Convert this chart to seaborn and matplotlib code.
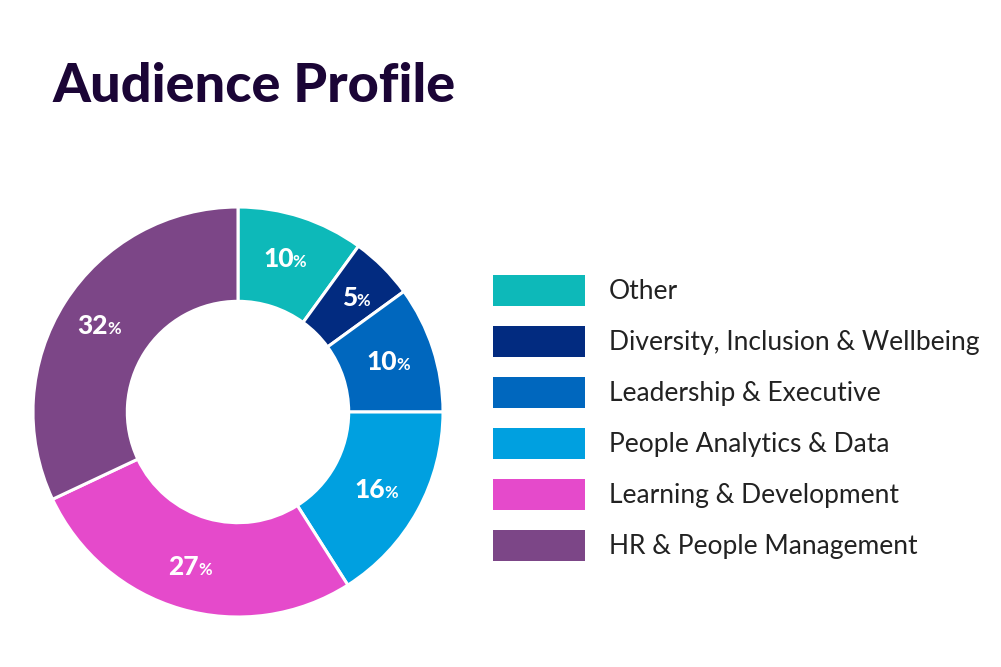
import matplotlib
matplotlib.use("Agg")
import matplotlib.pyplot as plt
import matplotlib.transforms as mtransforms
import numpy as np
import seaborn as sns

categories = ["Other", "Diversity, Inclusion & Wellbeing", "Leadership & Executive",
              "People Analytics & Data", "Learning & Development", "HR & People Management"]
values = [10, 5, 10, 16, 27, 32]
colors = ["#0DB9B9", "#022B80", "#0067BE", "#00A0E0", "#E54ACB", "#7C4687"]
title = "Audience Profile"

sns.set_theme(style="white")
plt.rcParams['font.family'] = ['Lato', 'DejaVu Sans']

fig = plt.figure(figsize=(10.01, 6.67), dpi=100)
fig.patch.set_facecolor("white")

ax = fig.add_axes([33 / 1001, 50 / 667, 410 / 1001, 410 / 667])
wedges, _ = ax.pie(values, colors=colors, startangle=90, counterclock=False,
                   radius=1.0, wedgeprops=dict(width=0.46, edgecolor="white", linewidth=2.2))
ax.set_xlim(-1, 1)
ax.set_ylim(-1, 1)
ax.set_aspect("equal")
ax.axis("off")

# percentage labels
total = sum(values)
start = 90.0
r_lab = 0.785
for v in values:
    ang = start - 360.0 * v / total / 2
    start -= 360.0 * v / total
    x = r_lab * np.cos(np.radians(ang))
    y = r_lab * np.sin(np.radians(ang))
    num = str(v)
    shift = 6
    tr_num = mtransforms.offset_copy(ax.transData, fig=fig, x=shift, y=-8, units='dots')
    ax.text(x, y, num, transform=tr_num, ha="right", va="baseline", color="white",
            fontsize=19, fontweight="black")
    tr_pct = mtransforms.offset_copy(ax.transData, fig=fig, x=shift - 1, y=-8, units='dots')
    ax.text(x, y, "%", transform=tr_pct, ha="left", va="baseline", color="white",
            fontsize=12, fontweight="bold")

fig.text(52 / 1001, 565 / 667, title, ha="left", va="baseline", fontsize=39,
         fontweight="black", color="#1B0536")

leg = fig.legend(wedges, categories, loc="center left", bbox_to_anchor=(493 / 1001, 249 / 667),
                 frameon=False, fontsize=19, handlelength=3.48, handleheight=1.43,
                 labelspacing=0.76, handletextpad=0.91, borderpad=0, borderaxespad=0)
for t in leg.get_texts():
    t.set_color("#222222")
for h in leg.legend_handles:
    h.set_edgecolor("none")
    h.set_linewidth(0)

fig.savefig("out.png", dpi=100, facecolor="white")
